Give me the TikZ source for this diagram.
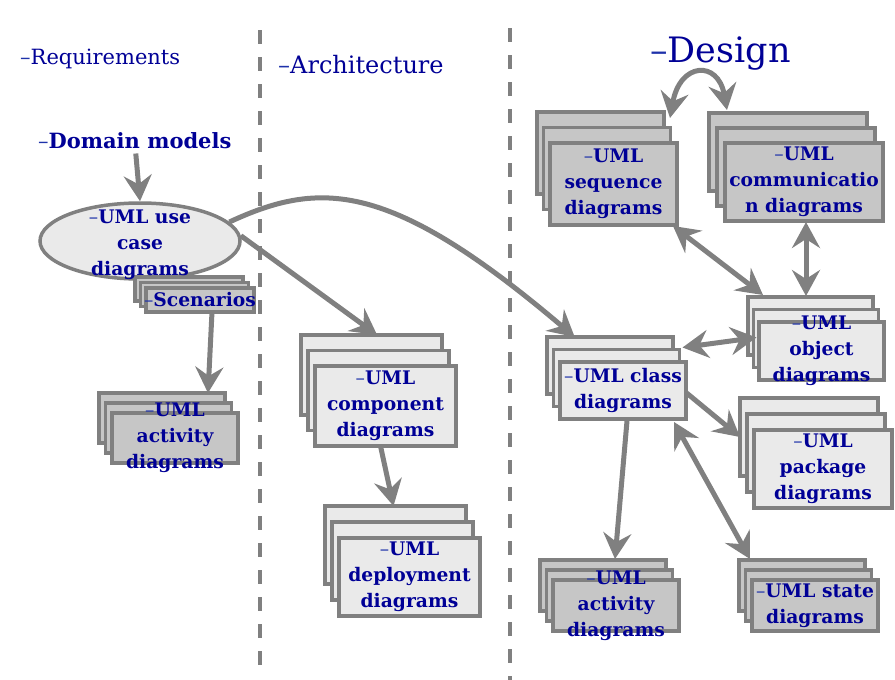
\documentclass[tikz,border=0pt]{standalone}
\usepackage{fontspec}
\setmainfont{DejaVu Serif}
\usetikzlibrary{calc,arrows.meta,shapes.geometric}
\definecolor{tblue}{RGB}{0,0,150}
\definecolor{dblue}{RGB}{30,50,170}
\definecolor{lgray}{RGB}{128,128,128}
\definecolor{lfill}{RGB}{234,234,234}
\definecolor{dfill}{RGB}{198,198,198}
\tikzset{
 ubox/.style={rectangle, draw=lgray, line width=3.5pt, inner sep=0pt, outer sep=0pt, anchor=north west},
 utext/.style={align=center, text=tblue, font=\bfseries\fontsize{18.7}{26}\selectfont, inner sep=0pt},
 hdr/.style={anchor=base west, text=tblue, inner sep=0pt},
 conn/.style={draw=lgray, line width=5pt, -{Stealth[length=26pt,width=28pt,inset=9pt]}},
 bconn/.style={draw=lgray, line width=5pt, {Stealth[length=26pt,width=28pt,inset=9pt]}-{Stealth[length=26pt,width=28pt,inset=9pt]}},
 dline/.style={draw=lgray, line width=4pt, dash pattern=on 14pt off 13pt},
}
\newcommand\dsh{{\color{dblue}\mdseries –}}
\newcommand\umlstack[9]{%
 \node[ubox,fill=#2,minimum width=#5pt,minimum height=#6pt] (#11) at (#3,#4) {};
 \node[ubox,fill=#2,minimum width=#5pt,minimum height=#6pt] (#12) at ({#3+#7},{#4+#8}) {};
 \node[ubox,fill=#2,minimum width=#5pt,minimum height=#6pt] (#13) at ({#3+2*#7},{#4+2*#8}) {};
 \node[utext] (#1t) at (#13.center) {#9};
}
\begin{document}
\begin{tikzpicture}[x=1pt,y=-1pt]
\useasboundingbox (0,0) rectangle (895,680);
\draw[dline] (260,30) -- (260,665);
\draw[dline] (510,28) -- (510,680);

\node[hdr, font=\fontsize{21}{25}\selectfont] (req) at (20,64) {\dsh Requirements};
\node[hdr, font=\fontsize{24}{28}\selectfont] (arch) at (278,73) {\dsh Architecture};
\node[hdr, font=\bfseries\fontsize{21}{25}\selectfont] (dom) at (38,148) {\dsh Domain models};
\node[hdr, font=\fontsize{35}{40}\selectfont] (des) at (650,62) {\dsh Design};

\node[ellipse, draw=lgray, fill=lfill, line width=3.5pt, minimum width=200pt, minimum height=76pt, inner sep=0pt] (uc) at (140,241) {};

\umlstack{scen}{dfill}{135}{277}{108}{24}{5.5}{5.5}{\dsh Scenarios}
\node[utext] (uct) at (140,245) {\dsh UML use\\case\\diagrams};
\umlstack{actL}{dfill}{99}{393}{126}{50}{6.5}{10}{\dsh UML\\activity\\diagrams}
\umlstack{comp}{lfill}{301}{335}{141}{80}{7}{15.5}{\dsh UML\\component\\diagrams}
\umlstack{dep}{lfill}{325}{506}{141}{78}{7}{16}{\dsh UML\\deployment\\diagrams}
\umlstack{seq}{dfill}{537}{112}{127}{82}{6.5}{15.5}{\dsh UML\\sequence\\diagrams}
\umlstack{comm}{dfill}{709}{113}{158}{78}{8}{15}{\dsh UML\\communicatio\\n diagrams}
\umlstack{obj}{lfill}{748}{297}{125}{58}{5.5}{12.5}{\dsh UML\\object\\diagrams}
\umlstack{cls}{lfill}{547}{337}{126}{57}{6.5}{12.5}{\dsh UML class\\diagrams}
\umlstack{pkg}{lfill}{740}{398}{138}{78}{7}{16}{\dsh UML\\package\\diagrams}
\umlstack{actR}{dfill}{540}{560}{126}{51}{6.5}{10}{\dsh UML\\activity\\diagrams}
\umlstack{state}{dfill}{739}{560}{126}{51}{6.5}{10}{\dsh UML state\\diagrams}

\draw[conn] ($(dom.south)+(1,5)$) -- (uc.north);
\draw[conn] (uc.3) -- ($(comp1.north west)!0.54!(comp1.north east)$);
\draw[conn] (uc.12) .. controls (320,180) and (390,180) .. ($(cls1.north west)!0.22!(cls1.north east)$);
\draw[conn] ($(scen3.south)+(12,0)$) -- ($(actL1.north west)+(109,0)$);
\draw[conn] ($(comp3.south)+(-5,0)$) -- ($(dep1.north)+(-2,0)$);
\draw[bconn] ($(seq3.south east)+(-4,1)$) -- ($(obj1.north west)+(15,-2)$);
\draw[bconn] ($(comm3.south)+(2,1)$) -- ($(obj1.north)+(-4.5,-1)$);
\draw[bconn] ($(cls2.north east)+(3,-2)$) -- ($(obj2.west)+(3,-1)$);
\draw[conn] ($(cls3.east)+(0,2)$) -- (pkg1.west);
\draw[conn] ($(cls3.south)+(4,2)$) -- ($(actR1.north)+(12,-1)$);
\draw[bconn] ($(cls3.south east)+(-12,3)$) -- ($(state1.north west)+(11,-1)$);
\draw[bconn] ($(seq1.north east)+(6,6)$) .. controls (680,62) and (718,60) .. ($(comm1.north west)+(18,-3)$);
\end{tikzpicture}
\end{document}
